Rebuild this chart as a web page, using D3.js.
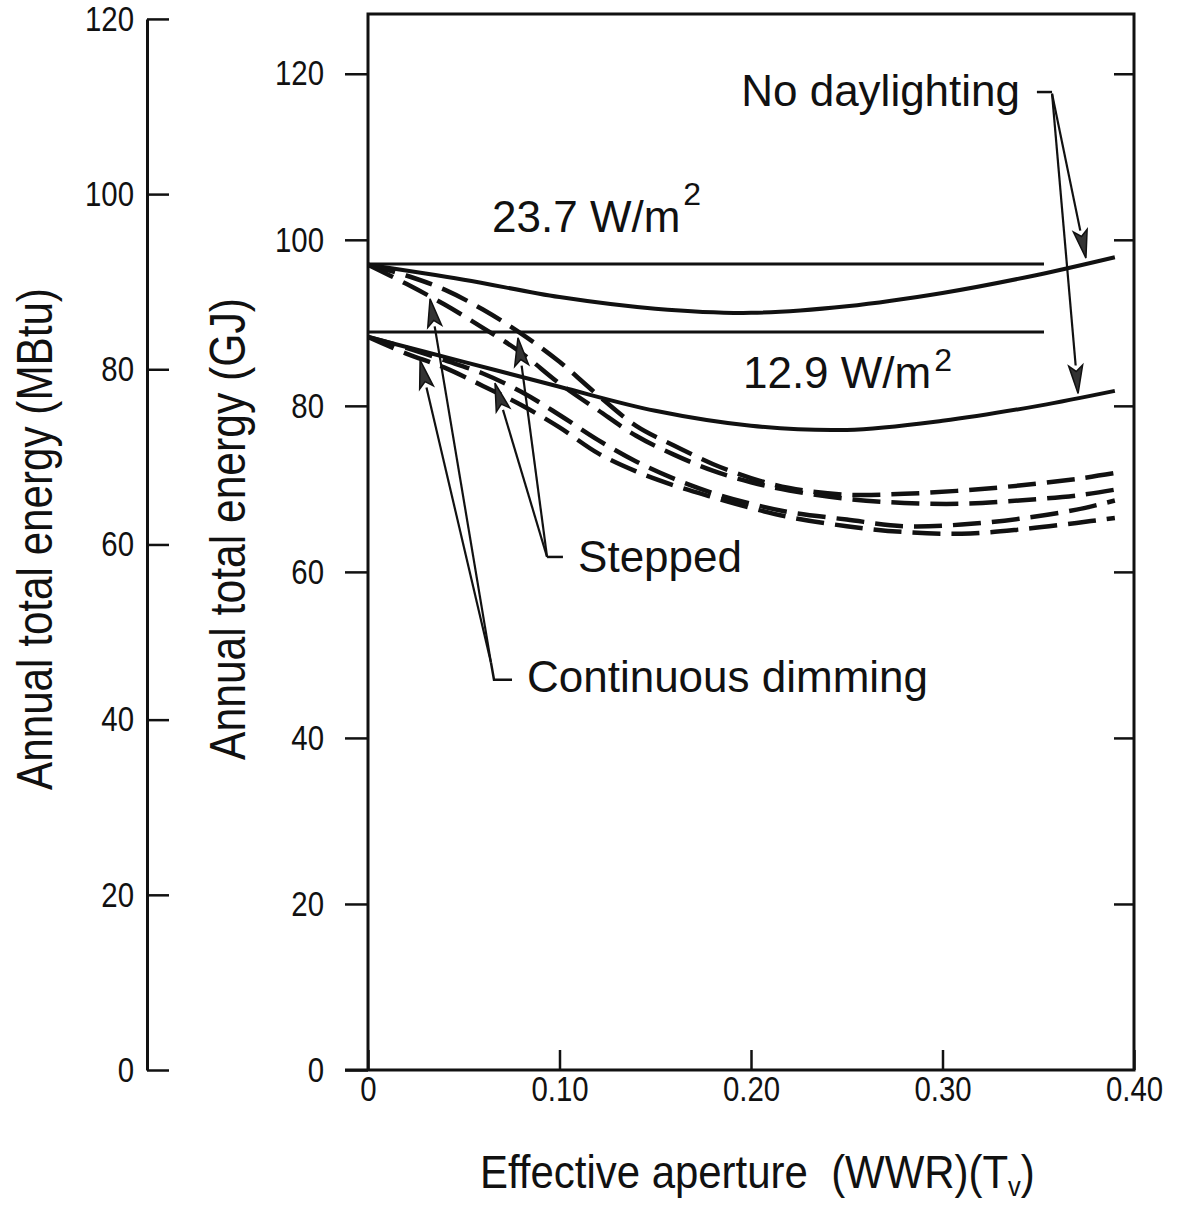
<!DOCTYPE html>
<html>
<head>
<meta charset="utf-8">
<script src="https://cdn.jsdelivr.net/npm/d3@7"></script>
<style>
  body { margin: 0; background: #fff; }
  svg { display: block; }
  text { font-family: "Liberation Sans", Arial, Helvetica, sans-serif; fill: #111; }
</style>
</head>
<body>
<svg id="chart" width="1180" height="1206"></svg>
<script>
// effective aperture samples for the no-daylighting curves
const solidX = [0, 0.05, 0.1, 0.15, 0.2, 0.25, 0.3, 0.35, 0.39];
const noDaylight237 = [97.0, 95.2, 93.1, 91.7, 91.2, 92.0, 93.6, 95.8, 97.9];
const noDaylight129 = [88.3, 85.3, 82.3, 79.4, 77.6, 77.1, 78.2, 80.0, 81.8];

// samples for the daylighting-control curves (GJ)
const dashX = [0, 0.02, 0.04, 0.06, 0.08, 0.1, 0.12, 0.14, 0.16, 0.18, 0.2, 0.22, 0.25, 0.28, 0.31, 0.34, 0.37, 0.39];
const stepped237 = [97.0, 95.7, 94.0, 91.6, 88.7, 85.3, 81.3, 77.6, 75.2, 73.0, 71.3, 70.1, 69.3, 69.4, 69.8, 70.4, 71.2, 71.9];
const continuous237 = [97.0, 94.7, 92.2, 89.4, 86.4, 82.7, 79.5, 76.4, 74.1, 72.2, 70.8, 69.8, 68.8, 68.3, 68.2, 68.6, 69.2, 69.9];
const stepped129 = [88.3, 87.0, 85.5, 83.9, 81.7, 78.9, 75.9, 73.3, 71.2, 69.5, 68.2, 67.2, 66.3, 65.5, 65.7, 66.4, 67.5, 68.6];
const continuous129 = [88.3, 86.3, 84.6, 82.4, 80.1, 77.4, 74.3, 72.1, 70.4, 69.0, 67.7, 66.6, 65.5, 64.8, 64.6, 65.1, 65.9, 66.5];

// constant lighting-power reference lines
const baseLines = [
  { value: 97.1, from: 0, to: 0.353 },
  { value: 88.9, from: 0, to: 0.353 },
];

const gjTicks = [0, 20, 40, 60, 80, 100, 120];
const mbtuTicks = [0, 20, 40, 60, 80, 100, 120];
const xTicks = [0, 0.1, 0.2, 0.3, 0.4];
const xTickLabels = ["0", "0.10", "0.20", "0.30", "0.40"];
const gjPerMbtu = 1.05506;

const frame = { left: 368, right: 1134, top: 14, bottom: 1070 };

const svg = d3.select("#chart");

const x = d3.scaleLinear().domain([0, 0.4]).range([frame.left, frame.right]);
const y = d3.scaleLinear().domain([0, 127.2]).range([frame.bottom, frame.top]);
const yMbtu = d3.scaleLinear().domain([0, 120]).range([y(0), y(120 * gjPerMbtu)]);

// the original lettering is a tall, narrow grotesque: squeeze glyphs sideways
function squeeze(sel, factor) {
  sel.each(function () {
    const w = this.getComputedTextLength();
    d3.select(this).attr("textLength", w * factor).attr("lengthAdjust", "spacingAndGlyphs");
  });
}

function styleAxis(g, tickWidth) {
  g.selectAll(".tick line").attr("stroke", "#111").attr("stroke-width", tickWidth);
  g.selectAll(".tick text").style("font-size", "35px").attr("fill", "#111");
  squeeze(g.selectAll(".tick text"), 0.84);
}

// MBtu scale on the far left
svg.append("g")
  .attr("transform", "translate(147,0)")
  .call(d3.axisLeft(yMbtu).tickValues(mbtuTicks).tickSize(-22).tickSizeOuter(0).tickPadding(13))
  .call((g) => {
    g.select(".domain").attr("stroke", "#111").attr("stroke-width", 3);
    styleAxis(g, 2.5);
  });

// GJ axis on the plot frame
svg.append("g")
  .attr("transform", `translate(${frame.left},0)`)
  .call(d3.axisLeft(y).tickValues(gjTicks).tickSize(23).tickSizeOuter(0).tickPadding(21))
  .call((g) => {
    g.select(".domain").remove();
    styleAxis(g, 2.5);
  });

svg.append("g")
  .attr("transform", `translate(${frame.right},0)`)
  .call(d3.axisRight(y).tickValues(gjTicks.slice(1)).tickSize(-20).tickFormat(""))
  .call((g) => {
    g.select(".domain").remove();
    styleAxis(g, 2.5);
  });

svg.append("g")
  .attr("transform", `translate(0,${frame.bottom})`)
  .call(d3.axisBottom(x).tickValues(xTicks).tickSize(-20).tickPadding(6).tickFormat((d, i) => xTickLabels[i]))
  .call((g) => {
    g.select(".domain").remove();
    styleAxis(g, 2.5);
  });

// frame (bottom edge runs past the left side as the zero tick)
svg.append("path")
  .attr("d", `M${frame.left - 23},${frame.bottom}H${frame.right}V${frame.top}H${frame.left}V${frame.bottom}`)
  .attr("fill", "none")
  .attr("stroke", "#111")
  .attr("stroke-width", 3);

// axis titles, squeezed to the widths of the original lettering
function fitText(sel, targetWidth, tx, ty, rotate) {
  const w = sel.node().getComputedTextLength();
  const s = targetWidth / w;
  sel.attr("transform", `translate(${tx},${ty})${rotate ? " rotate(-90)" : ""} scale(${s},1)`);
}

fitText(
  svg.append("text").attr("text-anchor", "middle").style("font-size", "50px").text("Annual total energy (MBtu)"),
  502, 52, 539, true
);
fitText(
  svg.append("text").attr("text-anchor", "middle").style("font-size", "50px").text("Annual total energy (GJ)"),
  462, 245, 529, true
);

const xTitle = svg.append("text").attr("text-anchor", "start").style("font-size", "46px").style("white-space", "pre");
xTitle.append("tspan").text("Effective aperture  (WWR)(T");
xTitle.append("tspan").attr("dy", 8).style("font-size", "28px").text("v");
xTitle.append("tspan").attr("dy", -8).text(")");
{
  const w = xTitle.node().getBBox().width;
  xTitle.attr("transform", `translate(480,1188) scale(${555 / w},1)`);
}

// curves
const line = d3.line()
  .x((d) => x(d[0]))
  .y((d) => y(d[1]))
  .curve(d3.curveCatmullRom.alpha(0.5));

const plot = svg.append("g");

plot.selectAll(".base")
  .data(baseLines)
  .join("line")
  .attr("class", "base")
  .attr("x1", (d) => x(d.from))
  .attr("x2", (d) => x(d.to))
  .attr("y1", (d) => y(d.value))
  .attr("y2", (d) => y(d.value))
  .attr("stroke", "#111")
  .attr("stroke-width", 3);

const solidSeries = [noDaylight237, noDaylight129];
plot.selectAll(".solid")
  .data(solidSeries)
  .join("path")
  .attr("class", "solid")
  .attr("d", (vals) => line(vals.map((v, i) => [solidX[i], v])))
  .attr("fill", "none")
  .attr("stroke", "#111")
  .attr("stroke-width", 4);

const dashSeries = [stepped237, continuous237, stepped129, continuous129];
plot.selectAll(".dash")
  .data(dashSeries)
  .join("path")
  .attr("class", "dash")
  .attr("d", (vals) => line(vals.map((v, i) => [dashX[i], v])))
  .attr("fill", "none")
  .attr("stroke", "#111")
  .attr("stroke-width", 4.5)
  .attr("stroke-dasharray", "28,11");

// annotations, positioned in data units
const labels = [
  { text: "No daylighting", at: [0.3405, 116.1], anchor: "end" },
  { text: "Stepped", at: [0.1097, 60.0], anchor: "start" },
  { text: "Continuous dimming", at: [0.083, 45.5], anchor: "start" },
];
const powerLabels = [
  { text: "23.7 W/m", at: [0.0648, 100.9], supRise: 3.3 },
  { text: "12.9 W/m", at: [0.1958, 82.15], supRise: 2.1 },
];
const leaders = [
  { bracket: [[0.3493, 117.8], [0.3572, 117.8]], origin: [0.3572, 117.6], tips: [[0.3749, 97.8], [0.3708, 81.5]] },
  { bracket: [[0.0935, 61.8], [0.1018, 61.8]], origin: [0.0935, 61.8], tips: [[0.0783, 88.2], [0.0663, 82.75]] },
  { bracket: [[0.0642, 49.1], [0.0658, 47.0], [0.0752, 47.0]], origin: [0.0642, 49.1], tips: [[0.0324, 92.9], [0.0272, 85.5]] },
];

const ann = svg.append("g");
ann.selectAll(".label")
  .data(labels)
  .join("text")
  .attr("class", "label")
  .attr("x", (d) => x(d.at[0]))
  .attr("y", (d) => y(d.at[1]))
  .attr("text-anchor", (d) => d.anchor)
  .style("font-size", "44px")
  .text((d) => d.text);

ann.selectAll(".power")
  .data(powerLabels)
  .join("text")
  .attr("class", "power")
  .attr("x", (d) => x(d.at[0]))
  .attr("y", (d) => y(d.at[1]))
  .style("font-size", "44px")
  .each(function (d) {
    const t = d3.select(this);
    t.append("tspan").text(d.text);
    t.append("tspan")
      .attr("dx", 3)
      .attr("y", y(d.at[1] + d.supRise))
      .style("font-size", "32px")
      .text("2");
  });

const pt = (p) => [x(p[0]), y(p[1])];

leaders.forEach((l) => {
  ann.append("path")
    .attr("d", d3.line()(l.bracket.map(pt)))
    .attr("fill", "none")
    .attr("stroke", "#111")
    .attr("stroke-width", 2.5);
  l.tips.forEach((tip) => {
    const [ox, oy] = pt(l.origin);
    const [tx, ty] = pt(tip);
    const len = Math.hypot(tx - ox, ty - oy);
    const ux = (tx - ox) / len;
    const uy = (ty - oy) / len;
    const headLen = 28;
    const half = 7;
    const bx = tx - ux * headLen;
    const by = ty - uy * headLen;
    ann.append("line")
      .attr("x1", ox).attr("y1", oy)
      .attr("x2", bx).attr("y2", by)
      .attr("stroke", "#111")
      .attr("stroke-width", 2.2);
    ann.append("path")
      .attr("d", `M${tx},${ty}L${bx - uy * half},${by + ux * half}L${bx + ux * 6},${by + uy * 6}L${bx + uy * half},${by - ux * half}Z`)
      .attr("fill", "#333")
      .attr("stroke", "#111")
      .attr("stroke-width", 1.5)
      .attr("stroke-linejoin", "miter");
  });
});
</script>
</body>
</html>
